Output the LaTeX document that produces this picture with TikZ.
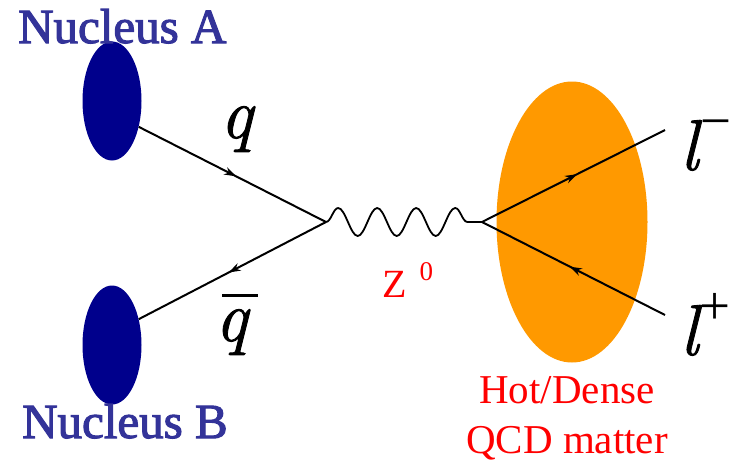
\documentclass[tikz,border=0pt]{standalone}
\usepackage{fontspec}
\setmainfont{Liberation Serif}
\newfontfamily\serifbold{Liberation Serif}[FakeBold=2.2]
\newfontfamily\serifup{Liberation Serif}
\newfontfamily\lmital{Latin Modern Roman}[ItalicFeatures={FakeBold=1.2}]
\usetikzlibrary{decorations.markings,decorations.pathmorphing,arrows.meta,shapes.geometric}
\definecolor{nucblue}{RGB}{0,0,140}
\definecolor{nuctext}{RGB}{51,51,153}
\definecolor{qgporange}{RGB}{255,153,0}
\definecolor{lblred}{RGB}{255,0,0}
\tikzset{
  nucleus/.style={ellipse, fill=nucblue, draw=none, minimum width=59pt, minimum height=119pt, inner sep=0},
  nuclabel/.style={anchor=base west, inner sep=0, text=nuctext, font=\serifbold\fontsize{49}{49}\selectfont},
  fermion/.style={line width=2pt, postaction={decorate}, decoration={markings,
     mark=at position 0.52 with {\arrow{Stealth[length=12pt,width=8pt]}}}},
  boson/.style={line width=1.8pt, decorate, decoration={snake, segment length=39pt, amplitude=14pt}},
  partlabel/.style={anchor=base west, inner sep=0, font=\lmital\itshape\fontsize{72}{72}\selectfont},
  redlabel/.style={anchor=base, inner sep=0, text=lblred, font=\serifup\fontsize{41}{41}\selectfont},
}
\begin{document}
\begin{tikzpicture}[x=1pt,y=-1pt]
\useasboundingbox (0,0) rectangle (742,461);
% blobs
\node[nucleus] (nucA) at (112,101) {};
\node[nucleus] (nucB) at (112,345) {};
\node[ellipse, fill=qgporange, draw=none, minimum width=151pt, minimum height=281pt, inner sep=0] (qgp) at (572,222) {};
% vertices and free ends
\coordinate (v1) at (326,222);
\coordinate (v2) at (482,222);
\coordinate (lm) at (665,130);
\coordinate (lp) at (665,315);
% lines
\draw[fermion] (nucA.-44) -- (v1);
\draw[fermion] (v1) -- (nucB.44);
\draw[boson] (v1) -- (v2);
\draw[fermion] (v2) -- (lm);
\draw[fermion] (lp) -- (v2);
% labels
\node[nuclabel] (labA) at (18,43) {Nucleus A};
\node[nuclabel] (labB) at (22,438) {Nucleus B};
\node[partlabel] (lq) at (220,138) {q};
\node[partlabel] (lqbar) at (215,341) {\rlap{\hspace*{7pt}\raisebox{44pt}{\rule{36pt}{2.6pt}}}q};
\node[partlabel] (llm) at (680,170) {l\hspace{2pt}\raisebox{31pt}{\serifup\upshape\fontsize{55}{55}\selectfont −}};
\node[partlabel] (llp) at (680,355) {l\hspace{1pt}\raisebox{31pt}{\serifup\upshape\fontsize{55}{55}\selectfont +}};
\node[anchor=base west, inner sep=0, text=lblred, font=\serifup\fontsize{40}{40}\selectfont] (lz) at (382,297) {Z\hspace{13pt}\raisebox{17pt}{\fontsize{27}{27}\selectfont 0}};
\node[redlabel] (hot1) at (567,403) {Hot/Dense};
\node[redlabel] (hot2) at (567,453) {QCD matter};
\end{tikzpicture}
\end{document}
